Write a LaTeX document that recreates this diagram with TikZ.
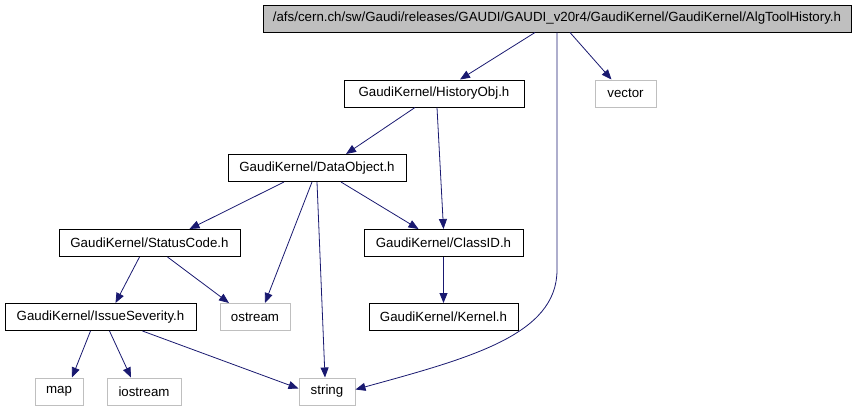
\documentclass[tikz,border=0pt]{standalone}
\usepackage{fontspec}
\setmainfont{Liberation Sans}
\usetikzlibrary{arrows.meta}
\definecolor{edgeblue}{HTML}{191970}
\definecolor{sysgray}{HTML}{BFBFBF}

\begin{document}
\begin{tikzpicture}[x=1pt,y=-1pt,
  box/.style={rectangle,draw=black,line width=1pt,minimum height=27,inner sep=0pt,font=\fontsize{13.3}{15}\selectfont},
  sysbox/.style={box,draw=sysgray},
  topbox/.style={box,fill=sysgray},
  dep/.style={draw=edgeblue,line width=0.8pt,-{Triangle[length=10,width=8]}}]
\useasboundingbox (0,0) rectangle (857,410);
% row 1
\node[topbox,minimum width=588] (alg) at (557,18.5) {/afs/cern.ch/sw/Gaudi/releases/GAUDI/GAUDI\_v20r4/GaudiKernel/GaudiKernel/AlgToolHistory.h};
% row 2
\node[box,minimum width=180] (hist) at (434,93.5) {GaudiKernel/HistoryObj.h};
\node[sysbox,minimum width=61] (vector) at (625.5,93.5) {vector};
% row 3
\node[box,minimum width=178] (datao) at (317,168) {GaudiKernel/DataObject.h};
% row 4
\node[box,minimum width=181] (status) at (149.5,243) {GaudiKernel/StatusCode.h};
\node[box,minimum width=159] (classid) at (443.5,243) {GaudiKernel/ClassID.h};
% row 5
\node[box,minimum width=191] (issue) at (100.5,317) {GaudiKernel/IssueSeverity.h};
\node[sysbox,minimum width=70] (ostream) at (255,317) {ostream};
\node[box,minimum width=149] (kernel) at (443.5,317) {GaudiKernel/Kernel.h};
% row 6
\node[sysbox,minimum width=48] (map) at (59,391.5) {map};
\node[sysbox,minimum width=74] (iostream) at (144,391.5) {iostream};
\node[sysbox,minimum width=56] (string) at (327,391.5) {string};

% edges
\draw[dep] ([xshift=-22]alg.south) -- ([xshift=26]hist.north);
\draw[dep] ([xshift=13]alg.south) -- ([xshift=-14]vector.north);
\draw[dep] (alg.south) -- (557,270) .. controls (557,335) and (470,358) .. ([yshift=2]string.east);
\draw[dep] ([xshift=-19]hist.south) -- ([xshift=29]datao.north);
\draw[dep] ([xshift=3]hist.south) -- (classid.north);
\draw[dep] ([xshift=-33]datao.south) -- ([xshift=40]status.north);
\draw[dep] ([xshift=-5]datao.south) -- ([xshift=10]ostream.north);
\draw[dep] (datao.south) -- ([xshift=-2]string.north);
\draw[dep] ([xshift=24]datao.south) -- ([xshift=-25]classid.north);
\draw[dep] ([xshift=-10]status.south) -- ([xshift=15]issue.north);
\draw[dep] ([xshift=18]status.south) -- ([xshift=-26]ostream.north);
\draw[dep] (classid.south) -- (kernel.north);
\draw[dep] ([xshift=-10]issue.south) -- ([xshift=13]map.north);
\draw[dep] ([xshift=9]issue.south) -- ([xshift=-13]iostream.north);
\draw[dep] ([xshift=42]issue.south) -- ([yshift=3]string.west);
\end{tikzpicture}
\end{document}
